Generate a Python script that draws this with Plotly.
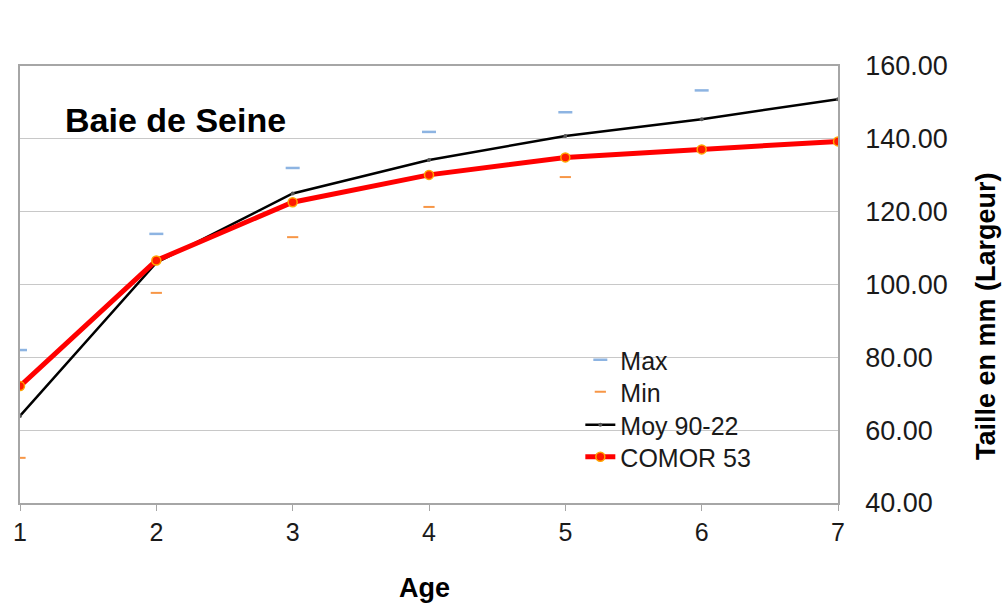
import plotly.graph_objects as go

ages = [1, 2, 3, 4, 5, 6, 7]
max_vals = [82.0, 113.9, 132.0, 141.9, 147.3, 153.3, None]
min_vals = [52.4, 97.7, 113.0, 121.3, 129.5, None, None]
moy_90_22 = [63.9, 106.0, 125.0, 134.2, 140.8, 145.4, 150.9]
comor_53 = [72.1, 106.6, 122.6, 130.1, 134.9, 137.1, 139.3]

FONT = "Liberation Sans, Arial, sans-serif"
TEXT = "#1a1a1a"

# plot area in pixels (used to place free text)
W, H = 1003, 608
L, R, T, B = 20, 165, 66, 105
PW, PH = W - L - R, H - T - B


def px_x(x):
    return (x - L) / PW


def px_y(y):
    return (H - B - y) / PH


fig = go.Figure()
fig.add_trace(go.Scatter(
    x=ages, y=max_vals, name="Max", mode="markers", legend="legend",
    marker=dict(symbol="line-ew", size=10, line=dict(color="#8db4e2", width=2.5)),
))
fig.add_trace(go.Scatter(
    x=ages, y=min_vals, name="Min", mode="markers", legend="legend2",
    marker=dict(symbol="line-ew", size=8, line=dict(color="#f79646", width=2)),
))
fig.add_trace(go.Scatter(
    x=ages, y=moy_90_22, name="Moy 90-22", mode="lines+markers", legend="legend3",
    line=dict(color="#000000", width=2.5),
    marker=dict(size=4, color="#555555"),
))
fig.add_trace(go.Scatter(
    x=ages, y=comor_53, name="COMOR 53", mode="lines+markers", legend="legend4",
    line=dict(color="#ff0000", width=5),
    marker=dict(size=9, color="#ff1a00", line=dict(color="#ffa500", width=1.5)),
))

fig.add_annotation(
    x=0.052, y=0.877, xref="paper", yref="paper", xanchor="left", yanchor="middle",
    text="<b>Baie de Seine</b>", showarrow=False,
    font=dict(family=FONT, size=34, color="#000000"),
)
fig.add_annotation(
    x=px_x(424), y=px_y(588), xref="paper", yref="paper", xanchor="center", yanchor="middle",
    text="<b>Age</b>", showarrow=False,
    font=dict(family=FONT, size=27, color="#000000"),
)
fig.add_annotation(
    x=px_x(986), y=px_y(316), xref="paper", yref="paper", xanchor="center", yanchor="middle",
    text="<b>Taille en mm (Largeur)</b>", showarrow=False, textangle=-90,
    font=dict(family=FONT, size=27, color="#000000"),
)

legend_rows = {"legend": 360, "legend2": 392, "legend3": 425, "legend4": 457}
legend_cfg = {}
for key, ypx in legend_rows.items():
    legend_cfg[key] = dict(
        x=0.685, y=px_y(ypx), xanchor="left", yanchor="middle",
        font=dict(family=FONT, size=25, color=TEXT),
        bgcolor="rgba(0,0,0,0)", itemwidth=30,
    )

fig.update_layout(
    width=W, height=H,
    margin=dict(l=L, r=R, t=T, b=B),
    paper_bgcolor="white", plot_bgcolor="white",
    font=dict(family=FONT, color=TEXT),
    showlegend=True,
    **legend_cfg,
    xaxis=dict(
        range=[1, 7], tickvals=ages, ticktext=[str(a) for a in ages],
        showgrid=False, zeroline=False,
        showline=True, linecolor="#a6a6a6", linewidth=1.5, mirror=True,
        ticks="outside", ticklen=6, tickcolor="#a6a6a6",
        tickfont=dict(family=FONT, size=25, color=TEXT),
    ),
    yaxis=dict(
        side="right", range=[40, 160], dtick=20, tickformat=".2f",
        showgrid=True, gridcolor="#c8c8c8", gridwidth=1, zeroline=False,
        showline=True, linecolor="#a6a6a6", linewidth=1.5, mirror=True,
        ticks="", ticklabelstandoff=20,
        tickfont=dict(family=FONT, size=27, color=TEXT),
    ),
)

fig.write_html("out.html")
